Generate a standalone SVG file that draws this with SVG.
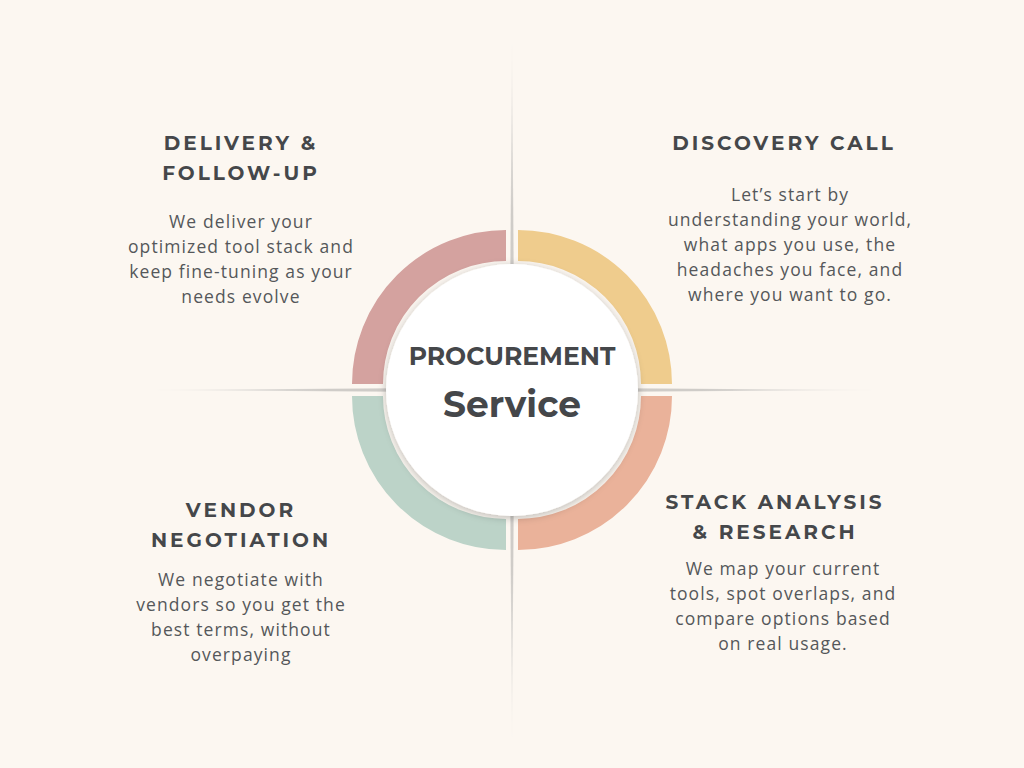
<svg xmlns="http://www.w3.org/2000/svg" width="1024" height="768" viewBox="0 0 1024 768">
<style>
.h{font-family:"Montserrat","Lato","Liberation Sans",sans-serif;font-weight:700;font-size:20px;letter-spacing:3px;fill:#45474a;text-anchor:middle}
.b{font-family:"Open Sans","Noto Sans","Liberation Sans",sans-serif;font-size:17.5px;letter-spacing:1.1px;fill:#55575a;text-anchor:middle}
.arc{fill:none;stroke-width:31}
</style>
<defs>
<linearGradient id="gv" x1="0" y1="0" x2="0" y2="1"><stop offset="0" stop-color="#ccc" stop-opacity="0"/><stop offset="0.25" stop-color="#cfccc8"/><stop offset="0.75" stop-color="#cfccc8"/><stop offset="1" stop-color="#ccc" stop-opacity="0"/></linearGradient>
<linearGradient id="gh" x1="0" y1="0" x2="1" y2="0"><stop offset="0" stop-color="#ccc" stop-opacity="0"/><stop offset="0.25" stop-color="#cfccc8"/><stop offset="0.75" stop-color="#cfccc8"/><stop offset="1" stop-color="#ccc" stop-opacity="0"/></linearGradient>
<filter id="sh" x="-20%" y="-20%" width="140%" height="140%"><feGaussianBlur in="SourceAlpha" stdDeviation="4"/><feOffset dx="0" dy="2"/><feComponentTransfer><feFuncA type="linear" slope="0.25"/></feComponentTransfer><feMerge><feMergeNode/><feMergeNode in="SourceGraphic"/></feMerge></filter>
</defs>
<rect width="1024" height="768" fill="#fcf7f1"/>
<g id="connectors">
<polygon points="512,30 514.5,390 512,752 509.5,390" fill="url(#gv)"/>
<polygon points="140,390 512,387.5 890,390 512,392.5" fill="url(#gh)"/>
</g>
<g id="ring">
<path class="arc" stroke="#d4a29f" d="M367.5,384 A138.5,138.5 0 0 1 506,245.5"/>
<path class="arc" stroke="#efcc8d" d="M518,245.5 A138.5,138.5 0 0 1 656.5,384"/>
<path class="arc" stroke="#eab29a" d="M656.5,396 A138.5,138.5 0 0 1 518,534.5"/>
<path class="arc" stroke="#bcd3c8" d="M506,534.5 A138.5,138.5 0 0 1 367.5,396"/>
</g>
<g id="center">
<circle cx="512" cy="390" r="126" fill="#ffffff" filter="url(#sh)"/>
<text x="512" y="365" font-family="Montserrat,Lato,'Liberation Sans',sans-serif" font-weight="700" font-size="25" fill="#45474a" text-anchor="middle">PROCUREMENT</text>
<text x="512" y="417" font-family="Montserrat,Lato,'Liberation Sans',sans-serif" font-weight="700" font-size="36" fill="#45474a" text-anchor="middle">Service</text>
</g>
<g id="discovery">
<text class="h" x="784" y="150">DISCOVERY CALL</text>
<text class="b" x="790" y="201">Let’s start by</text>
<text class="b" x="790" y="226">understanding your world,</text>
<text class="b" x="790" y="251">what apps you use, the</text>
<text class="b" x="790" y="276">headaches you face, and</text>
<text class="b" x="790" y="301">where you want to go.</text>
</g>
<g id="delivery">
<text class="h" x="241" y="150">DELIVERY &amp;</text>
<text class="h" x="241" y="180">FOLLOW-UP</text>
<text class="b" x="241" y="228">We deliver your</text>
<text class="b" x="241" y="253">optimized tool stack and</text>
<text class="b" x="241" y="278">keep fine-tuning as your</text>
<text class="b" x="241" y="303">needs evolve</text>
</g>
<g id="vendor">
<text class="h" x="241" y="517">VENDOR</text>
<text class="h" x="241" y="547">NEGOTIATION</text>
<text class="b" x="241" y="586">We negotiate with</text>
<text class="b" x="241" y="611">vendors so you get the</text>
<text class="b" x="241" y="636">best terms, without</text>
<text class="b" x="241" y="661">overpaying</text>
</g>
<g id="stack">
<text class="h" x="775" y="509">STACK ANALYSIS</text>
<text class="h" x="775" y="539">&amp; RESEARCH</text>
<text class="b" x="783" y="575">We map your current</text>
<text class="b" x="783" y="600">tools, spot overlaps, and</text>
<text class="b" x="783" y="625">compare options based</text>
<text class="b" x="783" y="650">on real usage.</text>
</g>
</svg>
